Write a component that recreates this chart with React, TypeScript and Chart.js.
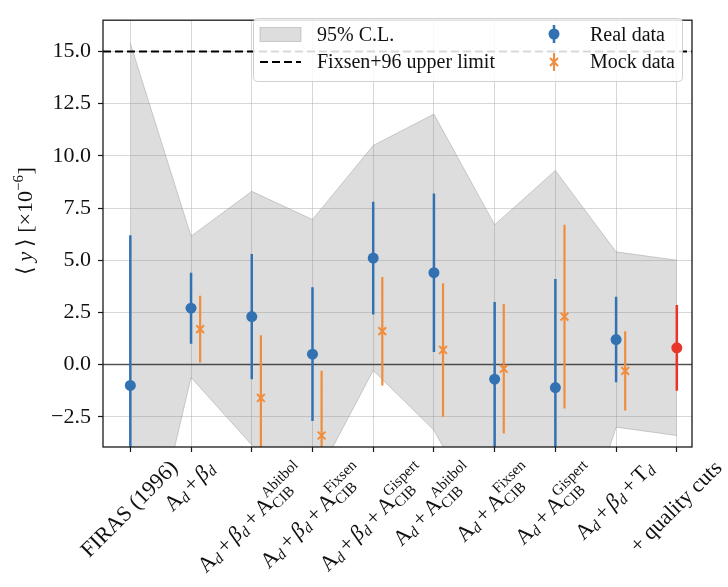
import React, { useEffect, useRef } from 'react';
import { Chart, registerables } from 'chart.js';

Chart.register(...registerables);

// ---------- data ----------
const tickLabels = [
  'FIRAS (1996)',
  '$A_d+β_d$',
  '$A_d+β_d+A_{CIB}^{Abitbol}$',
  '$A_d+β_d+A_{CIB}^{Fixsen}$',
  '$A_d+β_d+A_{CIB}^{Gispert}$',
  '$A_d+A_{CIB}^{Abitbol}$',
  '$A_d+A_{CIB}^{Fixsen}$',
  '$A_d+A_{CIB}^{Gispert}$',
  '$A_d+β_d+T_d$',
  '+ quality cuts',
];
const categoryPositions = [0, 1, 2, 3, 4, 5, 6, 7, 8, 9];

const realPositions = [0, 1, 2, 3, 4, 5, 6, 7, 8];
const realValues = [-1.0, 2.7, 2.3, 0.5, 5.1, 4.4, -0.7, -1.1, 1.2];
const realErrors = [7.2, 1.7, 3.0, 3.2, 2.7, 3.8, 3.7, 5.2, 2.05];

const mockPositions = [1, 2, 3, 4, 5, 6, 7, 8];
const mockValues = [1.7, -1.6, -3.4, 1.6, 0.7, -0.2, 2.3, -0.3];
const mockErrors = [1.6, 3.0, 3.1, 2.6, 3.2, 3.1, 4.4, 1.9];
const mockOffset = 0.15;

const qualityPositions = [9];
const qualityValues = [0.8];
const qualityErrors = [2.05];

const bandUpper = [15.4, 6.15, 8.3, 6.95, 10.5, 12.0, 6.7, 9.3, 5.4, 5.0];
const bandLower = [-13.0, -0.62, -3.85, -5.8, -0.28, -3.15, -8.4, -12.0, -3.0, -3.4];

const fixsenLimit = 15;
const yTicks = [-2.5, 0, 2.5, 5, 7.5, 10, 12.5, 15];
const xMin = -0.45;
const xMax = 9.25;
const yMin = -3.95;
const yMax = 16.5;

// ---------- styles ----------
const BLUE = '#3372b2';
const ORANGE = '#f08d3c';
const RED = '#e8352a';
const SERIF = '"Liberation Serif", "Times New Roman", serif';
const BAND_FILL = 'rgba(128,128,128,0.27)';
const BAND_EDGE = 'rgba(128,128,128,0.35)';

// ---------- rich text helpers ----------
type Item = { text: string; italic?: boolean; op?: boolean; sub?: string; sup?: string };
type Placed = { text: string; x: number; dy: number; size: number; italic: boolean };

const isItalic = (s: string) => s === 'd' || s === 'β' || s === 'y';

function parseLabel(s: string): Item[] {
  if (!(s.startsWith('$') && s.endsWith('$'))) return [{ text: s }];
  const m = s.slice(1, -1);
  const items: Item[] = [];
  let i = 0;
  while (i < m.length) {
    const c = m[i];
    if (c === '_' || c === '^') {
      i++;
      let arg = '';
      if (m[i] === '{') {
        const j = m.indexOf('}', i);
        arg = m.slice(i + 1, j);
        i = j + 1;
      } else {
        arg = m[i];
        i++;
      }
      const last = items[items.length - 1];
      if (c === '_') last.sub = arg;
      else last.sup = arg;
    } else if (c === '+') {
      items.push({ text: c, op: true });
      i++;
    } else {
      items.push({ text: c, italic: isItalic(c) });
      i++;
    }
  }
  return items;
}

const fontStr = (italic: boolean, size: number) => `${italic ? 'italic ' : ''}${size}px ${SERIF}`;

function layoutRich(ctx: CanvasRenderingContext2D, items: Item[], F: number) {
  let x = 0;
  const placed: Placed[] = [];
  let asc = 0.7 * F;
  let desc = 0.22 * F;
  for (const it of items) {
    const italic = !!it.italic;
    ctx.font = fontStr(italic, F);
    const w = ctx.measureText(it.text).width;
    const pad = it.op ? 0.14 * F : 0;
    placed.push({ text: it.text, x: x + pad, dy: 0, size: F, italic });
    x += w + 2 * pad;
    if (it.sub || it.sup) {
      const S = 0.68 * F;
      const both = !!(it.sub && it.sup);
      let sw = 0;
      if (it.sub) {
        const si = isItalic(it.sub);
        ctx.font = fontStr(si, S);
        const ww = ctx.measureText(it.sub).width;
        const dy = both ? 0.24 * F : 0.14 * F;
        placed.push({ text: it.sub, x: x, dy, size: S, italic: si });
        sw = Math.max(sw, ww);
        desc = Math.max(desc, dy + 0.2 * S);
      }
      if (it.sup) {
        const si = isItalic(it.sup);
        ctx.font = fontStr(si, S);
        const ww = ctx.measureText(it.sup).width;
        const dy = both ? -0.48 * F : -0.42 * F;
        placed.push({ text: it.sup, x: x, dy, size: S, italic: si });
        sw = Math.max(sw, ww);
        asc = Math.max(asc, -dy + 0.7 * S);
      }
      x += sw + 0.03 * F;
    }
  }
  return { placed, width: x, asc, desc };
}

function drawRich(ctx: CanvasRenderingContext2D, items: Item[], F: number, cx: number, cy: number, angle: number, anchor: 'bboxTop' | 'center', color: string) {
  const lay = layoutRich(ctx, items, F);
  const h = lay.asc + lay.desc;
  let ccy = cy;
  if (anchor === 'bboxTop') {
    ccy = cy + (lay.width * Math.abs(Math.sin(angle)) + h * Math.abs(Math.cos(angle))) / 2;
  }
  ctx.save();
  ctx.translate(cx, ccy);
  ctx.rotate(angle);
  ctx.fillStyle = color;
  ctx.textAlign = 'left';
  ctx.textBaseline = 'alphabetic';
  const by = (lay.asc - lay.desc) / 2;
  for (const p of lay.placed) {
    ctx.font = fontStr(p.italic, p.size);
    ctx.fillText(p.text, -lay.width / 2 + p.x, by + p.dy);
  }
  ctx.restore();
}

const yTitleItems: Item[] = [
  { text: '⟨\u2009' },
  { text: 'y', italic: true },
  { text: '\u2009⟩ [×10', sup: '−6' },
  { text: ']' },
];

// ---------- plugins ----------
const decorPlugin = {
  id: 'decor',
  afterDatasetsDraw(chart: any) {
    const { ctx, chartArea } = chart;
    const { left, right, top, bottom } = chartArea;
    ctx.save();
    // spines
    ctx.strokeStyle = '#1a1a1a';
    ctx.lineWidth = 1.3;
    ctx.strokeRect(left, top, right - left, bottom - top);

    // legend
    const lx = 253.5, ly = 18.5, lw = 429, lh = 63, r = 4;
    ctx.beginPath();
    ctx.moveTo(lx + r, ly);
    ctx.lineTo(lx + lw - r, ly);
    ctx.quadraticCurveTo(lx + lw, ly, lx + lw, ly + r);
    ctx.lineTo(lx + lw, ly + lh - r);
    ctx.quadraticCurveTo(lx + lw, ly + lh, lx + lw - r, ly + lh);
    ctx.lineTo(lx + r, ly + lh);
    ctx.quadraticCurveTo(lx, ly + lh, lx, ly + lh - r);
    ctx.lineTo(lx, ly + r);
    ctx.quadraticCurveTo(lx, ly, lx + r, ly);
    ctx.closePath();
    ctx.fillStyle = 'rgba(255,255,255,0.85)';
    ctx.fill();
    ctx.strokeStyle = '#d0d0d0';
    ctx.lineWidth = 1;
    ctx.stroke();

    // patch
    ctx.fillStyle = BAND_FILL;
    ctx.fillRect(260, 27.5, 41, 14);
    ctx.strokeStyle = BAND_EDGE;
    ctx.strokeRect(260, 27.5, 41, 14);
    // dashed
    ctx.beginPath();
    ctx.setLineDash([8, 4]);
    ctx.strokeStyle = '#000';
    ctx.lineWidth = 2;
    ctx.moveTo(260, 62);
    ctx.lineTo(301, 62);
    ctx.stroke();
    ctx.setLineDash([]);
    // real marker
    ctx.beginPath();
    ctx.strokeStyle = BLUE;
    ctx.lineWidth = 2.5;
    ctx.moveTo(554, 25);
    ctx.lineTo(554, 43);
    ctx.stroke();
    ctx.beginPath();
    ctx.fillStyle = BLUE;
    ctx.arc(554, 34, 5.5, 0, Math.PI * 2);
    ctx.fill();
    // mock marker
    ctx.beginPath();
    ctx.strokeStyle = ORANGE;
    ctx.lineWidth = 2;
    ctx.moveTo(554, 53);
    ctx.lineTo(554, 71);
    ctx.moveTo(550, 58);
    ctx.lineTo(558, 66);
    ctx.moveTo(558, 58);
    ctx.lineTo(550, 66);
    ctx.stroke();
    // texts
    ctx.fillStyle = '#111';
    ctx.font = `20px ${SERIF}`;
    ctx.textAlign = 'left';
    ctx.textBaseline = 'alphabetic';
    ctx.fillText('95% C.L.', 317, 41);
    ctx.fillText('Fixsen+96 upper limit', 317, 68);
    ctx.fillText('Real data', 590, 41);
    ctx.fillText('Mock data', 590, 68);
    ctx.restore();
  },
  afterDraw(chart: any) {
    const { ctx, chartArea } = chart;
    const xs = chart.scales.x;
    ctx.save();
    tickLabels.forEach((lab, i) => {
      const px = xs.getPixelForValue(categoryPositions[i]);
      drawRich(ctx, parseLabel(lab), 22, px, chartArea.bottom + 11, -Math.PI / 4, 'bboxTop', '#111');
    });
    // y title
    drawRich(ctx, yTitleItems, 22, 25, 221, -Math.PI / 2, 'center', '#111');
    ctx.restore();
  },
};

function errorSegments(xs: number[], vals: number[], errs: number[], dx: number) {
  const out: { x: number; y: number | null }[] = [];
  xs.forEach((x, i) => {
    out.push({ x: x + dx, y: vals[i] - errs[i] });
    out.push({ x: x + dx, y: vals[i] + errs[i] });
    out.push({ x: x + dx, y: null });
  });
  return out;
}

export default function App() {
  const canvasRef = useRef<HTMLCanvasElement | null>(null);

  useEffect(() => {
    document.body.style.margin = '0';
    const canvas = canvasRef.current;
    if (!canvas) return;

    const lineBase = { pointRadius: 0, pointHoverRadius: 0, spanGaps: false, tension: 0 };

    const chart = new Chart(canvas, {
      type: 'line',
      data: {
        datasets: [
          {
            ...lineBase,
            label: 'band upper',
            data: categoryPositions.map((x, i) => ({ x, y: bandUpper[i] })),
            borderColor: BAND_EDGE,
            borderWidth: 1,
            backgroundColor: BAND_FILL,
            fill: '+1',
            order: 100,
          },
          {
            ...lineBase,
            label: 'band lower',
            data: categoryPositions.map((x, i) => ({ x, y: bandLower[i] })),
            borderColor: BAND_EDGE,
            borderWidth: 1,
            fill: false,
            order: 99,
          },
          {
            ...lineBase,
            label: 'zero',
            data: [{ x: xMin, y: 0 }, { x: xMax, y: 0 }],
            borderColor: 'rgba(0,0,0,0.62)',
            borderWidth: 1.6,
            order: 90,
          },
          {
            ...lineBase,
            label: 'Fixsen+96 upper limit',
            data: [{ x: xMin, y: fixsenLimit }, { x: xMax, y: fixsenLimit }],
            borderColor: '#000',
            borderWidth: 2,
            borderDash: [8, 4],
            order: 80,
          },
          {
            ...lineBase,
            label: 'real err',
            data: errorSegments(realPositions, realValues, realErrors, 0),
            borderColor: BLUE,
            borderWidth: 2.5,
            order: 60,
          },
          {
            ...lineBase,
            label: 'Real data',
            data: realPositions.map((x, i) => ({ x, y: realValues[i] })),
            showLine: false,
            pointRadius: 5.5,
            pointStyle: 'circle',
            pointBackgroundColor: BLUE,
            pointBorderWidth: 0,
            order: 55,
          },
          {
            ...lineBase,
            label: 'mock err',
            data: errorSegments(mockPositions, mockValues, mockErrors, mockOffset),
            borderColor: ORANGE,
            borderWidth: 2.2,
            order: 50,
          },
          {
            ...lineBase,
            label: 'Mock data',
            data: mockPositions.map((x, i) => ({ x: x + mockOffset, y: mockValues[i] })),
            showLine: false,
            pointRadius: 5.5,
            pointStyle: 'crossRot',
            pointBorderColor: ORANGE,
            pointBackgroundColor: ORANGE,
            pointBorderWidth: 2,
            order: 45,
          },
          {
            ...lineBase,
            label: 'quality err',
            data: errorSegments(qualityPositions, qualityValues, qualityErrors, 0),
            borderColor: RED,
            borderWidth: 2.5,
            order: 40,
          },
          {
            ...lineBase,
            label: 'quality',
            data: qualityPositions.map((x, i) => ({ x, y: qualityValues[i] })),
            showLine: false,
            pointRadius: 5.5,
            pointStyle: 'circle',
            pointBackgroundColor: RED,
            pointBorderWidth: 0,
            order: 35,
          },
        ],
      },
      options: {
        responsive: false,
        animation: false,
        events: [],
        layout: { padding: { top: 8, right: 36, left: 0, bottom: 0 } },
        plugins: {
          legend: { display: false },
          tooltip: { enabled: false },
          filler: { propagate: false },
        },
        scales: {
          x: {
            type: 'linear',
            min: xMin,
            max: xMax,
            border: { display: false },
            grid: {
              color: 'rgba(176,176,176,0.5)',
              lineWidth: 1,
              drawTicks: true,
              tickLength: 5,
              tickColor: '#1a1a1a',
              tickWidth: 1.2,
            },
            ticks: { display: false },
            afterBuildTicks: (scale: any) => {
              scale.ticks = categoryPositions.map((v) => ({ value: v }));
            },
            afterFit: (scale: any) => {
              scale.height = 140;
            },
          },
          y: {
            type: 'linear',
            min: yMin,
            max: yMax,
            border: { display: false },
            grid: {
              color: 'rgba(176,176,176,0.5)',
              lineWidth: 1,
              drawTicks: true,
              tickLength: 5,
              tickColor: '#1a1a1a',
              tickWidth: 1.2,
            },
            ticks: {
              padding: 7,
              color: '#111',
              font: { family: SERIF, size: 22 },
              callback: (v: any) => Number(v).toFixed(1).replace('-', '−'),
            },
            afterBuildTicks: (scale: any) => {
              scale.ticks = yTicks.map((v) => ({ value: v }));
            },
            afterFit: (scale: any) => {
              scale.width = 103;
            },
          },
        },
      },
      plugins: [decorPlugin],
    } as any);

    return () => chart.destroy();
  }, []);

  return (
    <div style={{ position: 'absolute', left: 0, top: 0, width: 728, height: 587 }}>
      <canvas ref={canvasRef} width={728} height={587} />
    </div>
  );
}
